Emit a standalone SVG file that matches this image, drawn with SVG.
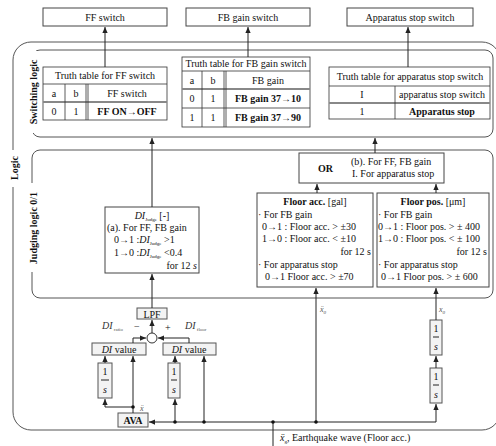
<svg xmlns="http://www.w3.org/2000/svg" width="496" height="446" viewBox="0 0 496 446">
<defs>
<marker id="ah" viewBox="0 0 8 8" refX="8" refY="4" markerWidth="6" markerHeight="6" markerUnits="userSpaceOnUse" orient="auto"><path d="M0,0.5 L8,4 L0,7.5 z" fill="#222"/></marker>
<style>
text{font-family:"Liberation Serif","DejaVu Serif",serif;font-size:10px;fill:#111}
.c{text-anchor:middle}
.r{text-anchor:end}
.b{font-weight:bold}
.i{font-style:italic}
.sub{font-size:5px}
.box{fill:#fff;stroke:#444;stroke-width:1}
.tb{fill:#fff;stroke:#333;stroke-width:0.8}
.tl{stroke:#333;stroke-width:0.8;fill:none}
.dl{stroke:#888;stroke-width:2.2;fill:none}
.grp{fill:none;stroke:#555;stroke-width:1}
.wire{fill:none;stroke:#222;stroke-width:1;marker-end:url(#ah)}
.ln{fill:none;stroke:#222;stroke-width:1}
.fr{fill:#f3f3f3;stroke:#555;stroke-width:1}
.lab{fill:#555;font-size:8px}
</style>
</defs>
<rect width="496" height="446" fill="#fff"/>

<!-- group frames -->
<g id="frames">
<rect id="logic-frame" x="13" y="42" width="487" height="388" rx="18" class="grp"/>
<rect id="switching-frame" x="32" y="50" width="461" height="87" rx="8" class="grp"/>
<rect id="judging-frame" x="32" y="150" width="461" height="148" rx="8" class="grp"/>
<g id="label-logic"><rect x="5" y="150" width="17" height="37" fill="#fff"/><text class="b c" transform="translate(18,168) rotate(-90)">Logic</text></g>
<g id="label-switching"><rect x="25" y="51" width="15" height="82" fill="#fff"/><text class="b c" transform="translate(37,92) rotate(-90)">Switching logic</text></g>
<g id="label-judging"><rect x="25" y="183" width="16" height="89" fill="#fff"/><text class="b c" transform="translate(37,228) rotate(-90)">Judging logic 0/1</text></g>
</g>

<!-- output boxes -->
<g id="ff-switch"><rect x="43" y="8" width="124" height="18" class="box"/><text class="c" x="105" y="21">FF switch</text></g>
<g id="fb-gain-switch"><rect x="186" y="8" width="124" height="18" class="box"/><text class="c" x="248" y="21">FB gain switch</text></g>
<g id="apparatus-stop-switch"><rect x="347" y="8" width="126" height="18" class="box"/><text class="c" x="410" y="21">Apparatus stop switch</text></g>

<!-- truth tables -->
<g id="ff-table">
<rect x="43" y="67" width="124" height="53" class="tb"/>
<line x1="43" y1="84" x2="167" y2="84" class="tl"/>
<line x1="43" y1="102" x2="167" y2="102" class="dl"/>
<line x1="65" y1="84" x2="65" y2="120" class="tl"/>
<line x1="86" y1="84" x2="86" y2="120" class="tl"/>
<line x1="88" y1="84" x2="88" y2="120" class="tl"/>
<text class="c" x="105" y="79">Truth table for FF switch</text>
<text class="c" x="54" y="97">a</text><text class="c" x="76" y="97">b</text><text class="c" x="127" y="97">FF switch</text>
<text class="c" x="54" y="115">0</text><text class="c" x="76" y="115">1</text><text class="c b" x="127" y="115">FF ON→OFF</text>
</g>
<g id="fb-table">
<rect x="182" y="57" width="128" height="70" class="tb"/>
<line x1="182" y1="71" x2="310" y2="71" class="tl"/>
<line x1="182" y1="89" x2="310" y2="89" class="dl"/>
<line x1="182" y1="108" x2="310" y2="108" class="tl"/>
<line x1="202" y1="71" x2="202" y2="127" class="tl"/>
<line x1="224" y1="71" x2="224" y2="127" class="tl"/>
<line x1="226" y1="71" x2="226" y2="127" class="tl"/>
<text class="c" x="246" y="67">Truth table for FB gain switch</text>
<text class="c" x="192" y="84">a</text><text class="c" x="213" y="84">b</text><text class="c" x="268" y="84">FB gain</text>
<text class="c" x="192" y="102">0</text><text class="c" x="213" y="102">1</text><text class="c b" x="268" y="102">FB gain 37→10</text>
<text class="c" x="192" y="121">1</text><text class="c" x="213" y="121">1</text><text class="c b" x="268" y="121">FB gain 37→90</text>
</g>
<g id="apparatus-table">
<rect x="329" y="67" width="161" height="52" class="tb"/>
<line x1="329" y1="86" x2="490" y2="86" class="tl"/>
<line x1="329" y1="103" x2="490" y2="103" class="dl"/>
<line x1="395" y1="86" x2="395" y2="119" class="tl"/>
<text class="c" x="410" y="80">Truth table for apparatus stop switch</text>
<text class="c" x="362" y="98">I</text><text class="c" x="442" y="98">apparatus stop switch</text>
<text class="c" x="362" y="115">1</text><text class="c b" x="442" y="115">Apparatus stop</text>
</g>

<!-- judging boxes -->
<g id="di-judge">
<rect x="105" y="207" width="94" height="66" class="box"/>
<text class="c" x="152" y="219"><tspan class="i">DI</tspan><tspan class="sub" dy="2">Judge</tspan><tspan dy="-2"> [-]</tspan></text>
<text x="107" y="231">(a). For FF, FB gain</text>
<text x="114" y="243">0→1 :<tspan class="i">DI</tspan><tspan class="sub" dy="2">Judge</tspan><tspan dy="-2"> &gt;1</tspan></text>
<text x="114" y="256">1→0 :<tspan class="i">DI</tspan><tspan class="sub" dy="2">Judge</tspan><tspan dy="-2"> &lt;0.4</tspan></text>
<text class="r" x="197" y="269">for 12 <tspan class="i">s</tspan></text>
</g>
<g id="or-box">
<rect x="299" y="153" width="145" height="30" class="box"/>
<text class="b" x="318" y="172">OR</text>
<text x="351" y="165">(b). For FF, FB gain</text>
<text x="352" y="177">I. For apparatus stop</text>
</g>
<g id="floor-acc">
<rect x="257" y="193" width="116" height="94" class="box"/>
<text class="c" x="315" y="205"><tspan class="b">Floor acc.</tspan> [gal]</text>
<text x="258" y="218">· For FB gain</text>
<text x="262" y="230">0→1 : Floor acc. &gt; ±30</text>
<text x="262" y="242">1→0 : Floor acc. &lt; ±10</text>
<text class="r" x="371" y="255">for 12 s</text>
<text x="258" y="268">· For apparatus stop</text>
<text x="265" y="280">0→1 Floor acc. &gt; ±70</text>
</g>
<g id="floor-pos">
<rect x="377" y="193" width="112" height="94" class="box"/>
<text class="c" x="433" y="205"><tspan class="b">Floor pos.</tspan> [μm]</text>
<text x="378" y="218">· For FB gain</text>
<text x="378" y="230">0→1 : Floor pos. &gt; ± 400</text>
<text x="378" y="242">1→0 : Floor pos. &lt; ± 100</text>
<text class="r" x="487" y="255">for 12 s</text>
<text x="378" y="268">· For apparatus stop</text>
<text x="381" y="280">0→1 Floor pos. &gt; ± 600</text>
</g>

<!-- lower blocks -->
<g id="lpf"><rect x="137" y="308" width="30" height="11" class="fr"/><text class="c" x="152" y="317.5">LPF</text></g>
<g id="sum"><circle cx="152" cy="338" r="5" fill="#fff" stroke="#333"/></g>
<g id="di-value-ratio"><rect x="92" y="343" width="54" height="12" class="fr"/><text class="c" x="119" y="352.5"><tspan class="i">DI</tspan> value</text></g>
<g id="di-value-floor"><rect x="163" y="343" width="53" height="12" class="fr"/><text class="c" x="189" y="352.5"><tspan class="i">DI</tspan> value</text></g>
<g id="int-left"><rect x="98" y="363" width="14" height="35" class="fr"/><text class="c" x="105" y="375">1</text><line x1="101" y1="380" x2="109" y2="380" class="ln"/><text class="c i" x="105" y="393">s</text></g>
<g id="int-mid"><rect x="168" y="363" width="12" height="35" class="fr"/><text class="c" x="174" y="375">1</text><line x1="171" y1="380" x2="177" y2="380" class="ln"/><text class="c i" x="174" y="393">s</text></g>
<g id="int-right-upper"><rect x="430" y="320" width="12" height="35" class="fr"/><text class="c" x="436" y="332">1</text><line x1="433" y1="337" x2="439" y2="337" class="ln"/><text class="c i" x="436" y="350">s</text></g>
<g id="int-right-lower"><rect x="430" y="368" width="12" height="35" class="fr"/><text class="c" x="436" y="380">1</text><line x1="433" y1="385" x2="439" y2="385" class="ln"/><text class="c i" x="436" y="398">s</text></g>
<g id="ava"><rect x="118" y="413" width="30" height="14" class="fr"/><text class="c b" x="133" y="424">AVA</text></g>

<!-- connectors -->
<g id="connectors">
<path d="M105,67 V27" class="wire"/>
<path d="M248,57 V27" class="wire"/>
<path d="M408,67 V27" class="wire"/>
<path d="M152,207 V138" class="wire"/>
<path d="M375,153 V138" class="wire"/>
<path d="M317,193 V184" class="wire"/>
<path d="M436,193 V184" class="wire"/>
<path d="M152,308 V274" class="wire"/>
<path d="M152,333 V320" class="wire"/>
<path d="M133,343 V338 H146" class="wire"/>
<path d="M189,343 V338 H158" class="wire"/>
<path d="M133,413 V356" class="wire"/>
<path d="M133,407 H105 V399" class="wire"/>
<path d="M105,363 V356" class="wire"/>
<path d="M175,422 V399" class="wire"/>
<path d="M175,363 V356" class="wire"/>
<path d="M204,422 V356" class="wire"/>
<path d="M436,422 H149" class="wire"/>
<path d="M436,422 V404" class="wire"/>
<path d="M436,368 V356" class="wire"/>
<path d="M436,320 V288" class="wire"/>
<path d="M316,422 V288" class="wire"/>
<path d="M273,446 V422" class="ln"/>
<circle cx="133" cy="407" r="1.8" fill="#111"/>
<circle cx="175" cy="422" r="1.8" fill="#111"/>
<circle cx="204" cy="422" r="1.8" fill="#111"/>
<circle cx="273" cy="422" r="1.8" fill="#111"/>
<circle cx="316" cy="422" r="1.8" fill="#111"/>
<text class="lab i" x="140" y="411">x&#776;</text>
<text class="lab i" x="320" y="312">x&#776;<tspan class="sub" dy="1.5">0</tspan></text>
<text class="lab i" x="439" y="312">x<tspan class="sub" dy="1.5">0</tspan></text>
<text class="lab" x="102" y="329"><tspan class="i" font-size="10" fill="#333">DI</tspan><tspan class="sub" dy="2"> ratio</tspan></text>
<text x="134" y="330" fill="#333">−</text>
<text x="165" y="331" fill="#333">+</text>
<text class="lab" x="185" y="329"><tspan class="i" font-size="10" fill="#333">DI</tspan><tspan class="sub" dy="2"> floor</tspan></text>
<text x="280" y="441" fill="#333"><tspan class="i">x&#776;</tspan><tspan class="sub" dy="1.5">g</tspan><tspan dy="-1.5">,  Earthquake wave (Floor acc.)</tspan></text>
</g>
</svg>
